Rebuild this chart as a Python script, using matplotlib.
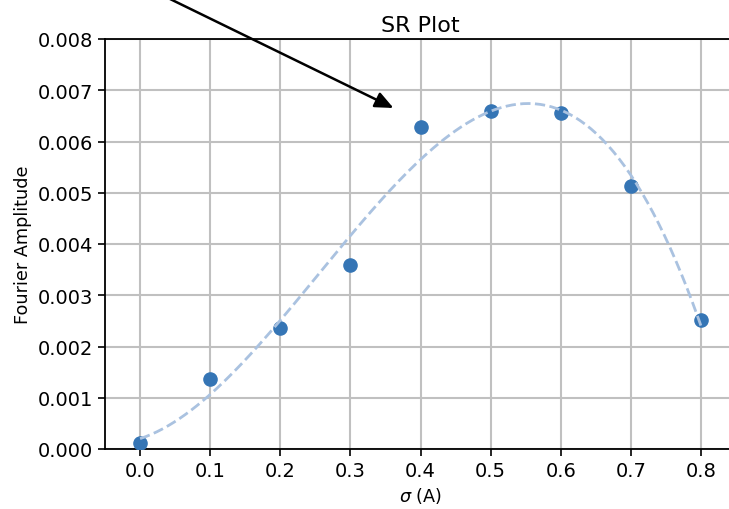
import numpy as np
import matplotlib
matplotlib.use("Agg")
import matplotlib.pyplot as plt

# data
sigma = [0.0, 0.1, 0.2, 0.3, 0.4, 0.5, 0.6, 0.7, 0.8]
amplitude = [0.00012, 0.00137, 0.00236, 0.00360, 0.00628, 0.00660, 0.00656, 0.00513, 0.00252]
xticks = [0.0, 0.1, 0.2, 0.3, 0.4, 0.5, 0.6, 0.7, 0.8]
yticks = [0.000, 0.001, 0.002, 0.003, 0.004, 0.005, 0.006, 0.007, 0.008]

# smooth fit through the points
coef = np.polyfit(sigma, amplitude, 3)
xs = np.linspace(0.0, 0.8, 200)
ys = np.polyval(coef, xs)

fig = plt.figure(figsize=(7.29, 5.10), dpi=100)
ax = fig.add_axes([105 / 729, 60 / 510, 631 / 729, 410 / 510])

ax.scatter(sigma, amplitude, s=90, color="#3575b5", zorder=3)
ax.plot(xs, ys, "--", color="#aac2e0", lw=2, zorder=4)

ax.set_xlim(-0.05, 0.85)
ax.set_ylim(0, 0.008)
ax.set_xticks(xticks)
ax.set_yticks(yticks)
ax.set_xticklabels([f"{v:.1f}" for v in xticks])
ax.set_yticklabels([f"{v:.3f}" for v in yticks])
ax.tick_params(labelsize=14, length=5, width=1.2)
ax.grid(True, color="#c0c0c0", lw=1.5)
ax.set_axisbelow(True)
for s in ax.spines.values():
    s.set_linewidth(1.3)
ax.spines["right"].set_visible(False)

ax.set_xlabel(r"$\sigma$ (A)", fontsize=12.7)
ax.set_ylabel("Fourier Amplitude", fontsize=12.7)
ax.set_title("SR Plot", fontsize=16, pad=6)

ax.annotate("", xy=(0.365, 0.00663), xytext=(-0.02, 0.0092),
            arrowprops=dict(arrowstyle="-|>,head_length=0.5,head_width=0.22",
                            color="black", lw=1.8, mutation_scale=22),
            annotation_clip=False)

fig.savefig("out.png", dpi=100)
